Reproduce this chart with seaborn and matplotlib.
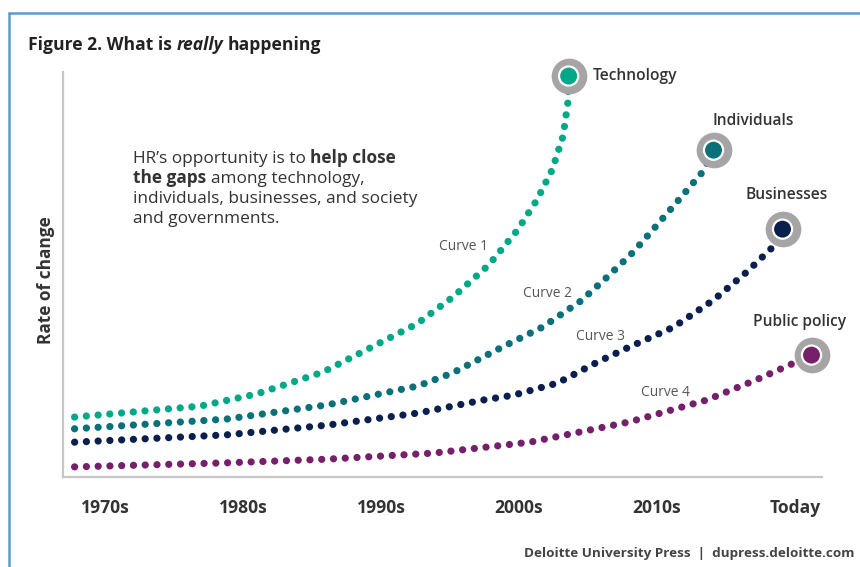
import matplotlib
matplotlib.use("Agg")
import matplotlib.pyplot as plt
from matplotlib.lines import Line2D
import numpy as np
import pandas as pd
import seaborn as sns

# ---- data -------------------------------------------------------------
# x: 0 = 1970s ... 5 = Today ; y: relative rate of change (0-100)
decade_labels = ["1970s", "1980s", "1990s", "2000s", "2010s", "Today"]

tech_x = [-0.22, 0.69, 1.10, 1.58, 2.26, 2.52, 2.78, 2.99, 3.13, 3.24, 3.32, 3.355, 3.36]
tech_y = [14.8, 17.5, 20.5, 25.9, 37.8, 44.4, 52.3, 61.0, 68.4, 75.8, 84.2, 92.6, 99.0]

indiv_x = [-0.22, 0.88, 1.61, 2.27, 2.52, 2.88, 3.17, 3.45, 3.64, 3.83, 4.00, 4.17, 4.33, 4.41]
indiv_y = [11.9, 14.3, 17.8, 22.5, 25.7, 32.1, 37.0, 43.5, 49.4, 55.6, 62.2, 68.9, 75.3, 80.7]

biz_x = [-0.22, 0.88, 1.61, 2.27, 2.74, 2.96, 3.28, 3.57, 3.80, 4.12, 4.41, 4.65, 4.84, 4.91]
biz_y = [8.6, 10.4, 12.8, 15.8, 19.0, 20.2, 23.2, 28.4, 32.1, 37.0, 43.7, 50.6, 56.8, 61.2]

policy_x = [-0.22, 0.88, 1.61, 2.38, 3.08, 3.80, 4.36, 4.72, 4.99, 5.12]
policy_y = [2.5, 3.5, 4.4, 5.9, 8.6, 13.6, 19.0, 24.0, 28.1, 30.1]

series_names = ["Technology", "Individuals", "Businesses", "Public policy"]
curve_names = ["Curve 1", "Curve 2", "Curve 3", "Curve 4"]
colors = ["#00a887", "#0a7079", "#0b1f4f", "#76206b"]

# ---- style ------------------------------------------------------------
sns.set_theme(style="white")
plt.rcParams["font.family"] = ["Open Sans", "DejaVu Sans"]

W, H = 860, 567
fig = plt.figure(figsize=(W / 100, H / 100), dpi=100)
ax = fig.add_axes([63 / W, 1 - 477 / H, (822 - 63) / W, (477 - 72) / H])

xs = [tech_x, indiv_x, biz_x, policy_x]
ys = [tech_y, indiv_y, biz_y, policy_y]
df = pd.concat(
    [pd.DataFrame({"x": x, "y": y, "series": n}) for x, y, n in zip(xs, ys, series_names)],
    ignore_index=True,
)
palette = dict(zip(series_names, colors))

# dotted curves: round-capped zero-length dashes give evenly spaced dots
sns.lineplot(data=df, x="x", y="y", hue="series", palette=palette, sort=False,
             estimator=None, legend=False, linewidth=5.2, ax=ax)
for ln in ax.lines:
    ln.set_linestyle((0, (0.01, 1.62)))
    ln.set_dash_capstyle("round")
    ln.set_solid_capstyle("round")

# end-point badges: grey ring, white gap, coloured dot
ends = pd.DataFrame({"x": [x[-1] for x in xs], "y": [y[-1] for y in ys],
                     "series": series_names})
sns.scatterplot(data=ends, x="x", y="y", s=660, color="#a6a4a4", linewidth=0,
                legend=False, ax=ax, zorder=5, clip_on=False)
sns.scatterplot(data=ends, x="x", y="y", hue="series", palette=palette, s=190,
                edgecolor="white", linewidth=1.6, legend=False, ax=ax,
                zorder=6, clip_on=False)

# series labels beside badges (offsets in pixels)
label_offsets = {"Technology": (24, 0, "left"), "Individuals": (40, 29, "center"),
                 "Businesses": (4, 34, "center"), "Public policy": (-12, 33, "center")}
for n, ex, ey in zip(series_names, ends["x"], ends["y"]):
    dx, dy, ha = label_offsets[n]
    ax.annotate(n, (ex, ey), xytext=(dx, dy), textcoords="offset pixels",
                ha=ha, va="center", fontsize=11.2, fontweight="semibold",
                color="#333333", annotation_clip=False)

# curve names along the lines
curve_pos = [(2.598, 56.9), (3.205, 45.4), (3.594, 34.6), (4.065, 20.8)]
for name, (cx, cy) in zip(curve_names, curve_pos):
    ax.text(cx, cy, name, ha="center", va="center", fontsize=9.9, color="#555555")

ax.set_xlim(-0.304, 5.196)
ax.set_ylim(0, 100)
ax.set_xticks(range(len(decade_labels)))
ax.set_xticklabels(decade_labels, fontsize=12.6, fontweight="bold", color="#333333")
ax.tick_params(axis="x", length=0, pad=16)
ax.set_yticks([])
ax.set_xlabel("")
ax.set_ylabel("")
for side in ["top", "right"]:
    ax.spines[side].set_visible(False)
for side in ["left", "bottom"]:
    ax.spines[side].set_color("#c6c6c6")
    ax.spines[side].set_linewidth(1.6)

fig.text(46 / W, 1 - 280 / H, "Rate of change", rotation=90, ha="center", va="center",
         fontsize=12.4, fontweight="bold", color="#333333")

# ---- rich text helpers ------------------------------------------------
renderer = fig.canvas.get_renderer()


def text_width(s, **kw):
    t = fig.text(0, 0, s, **kw)
    w = t.get_window_extent(renderer).width
    t.remove()
    return w


def rich_line(x_px, y_px, runs, size, color):
    x = x_px
    for txt, weight, style in runs:
        kw = dict(fontsize=size, fontweight=weight, fontstyle=style)
        lead = len(txt) - len(txt.lstrip(" "))
        if lead:
            x += text_width("x x", **kw) - text_width("xx", **kw)
            txt = txt.lstrip(" ")
        t = fig.text(x / W, 1 - y_px / H, txt, ha="left", va="baseline",
                     color=color, **kw)
        x += t.get_window_extent(renderer).width


rich_line(28, 50, [("Figure 2. What is", "bold", "normal"),
                   (" really", "bold", "italic"),
                   (" happening", "bold", "normal")], 12.6, "#222222")

body = [
    [("HR\u2019s opportunity is to", "normal", "normal"), (" help close", "bold", "normal")],
    [("the gaps", "bold", "normal"), (" among technology,", "normal", "normal")],
    [("individuals, businesses, and society", "normal", "normal")],
    [("and governments.", "normal", "normal")],
]
for i, runs in enumerate(body):
    rich_line(133, 162.7 + i * 20.2, runs, 12.4, "#333333")

fig.text(854 / W, 1 - 554 / H, "Deloitte University Press  |  dupress.deloitte.com",
         ha="right", va="center", fontsize=9.7, fontweight="bold", color="#444444")

# frame lines at top and left
blue = "#5b9bd5"
fig.add_artist(Line2D([9 / W, 1], [1 - 13 / H, 1 - 13 / H], color=blue, lw=1.8))
fig.add_artist(Line2D([9 / W, 9 / W], [0, 1 - 13 / H], color=blue, lw=1.8))

fig.savefig("out.png", dpi=100)
